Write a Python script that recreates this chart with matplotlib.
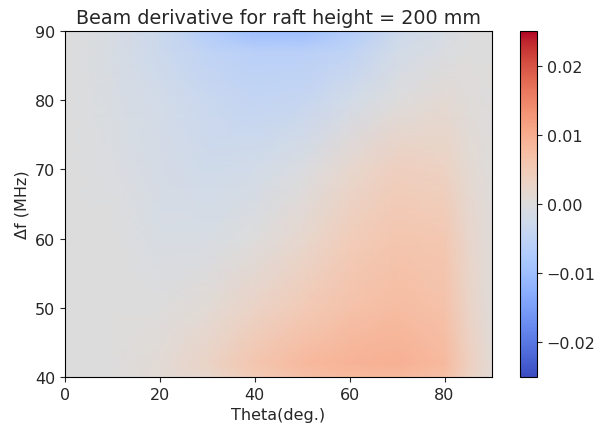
import numpy as np
import matplotlib
matplotlib.use("Agg")
import matplotlib.pyplot as plt

theta = [0, 10, 20, 30, 40, 50, 60, 70, 80, 85, 90]
freq = [40, 42, 50, 60, 70, 80, 87, 90]
# rows: freq (40 -> 90), columns: theta
v40 = [0.0, 0.0, 0.001, 0.002, 0.005, 0.007, 0.008, 0.008, 0.007, 0.0035, 0.001]
v42 = [0.0, 0.0, 0.001, 0.003, 0.006, 0.008, 0.009, 0.0095, 0.008, 0.004, 0.001]
v50 = [0.0, 0.0, 0.0, 0.001, 0.003, 0.005, 0.0065, 0.0075, 0.0065, 0.003, 0.0005]
v60 = [0.0, 0.0, -0.001, -0.001, 0.0, 0.002, 0.0045, 0.006, 0.0055, 0.0025, 0.0005]
v70 = [0.0, -0.0005, -0.0015, -0.0025, -0.002, -0.0005, 0.002, 0.004, 0.0035, 0.0015, 0.0003]
v80 = [0.0, -0.0008, -0.002, -0.0035, -0.0045, -0.004, -0.002, 0.0, 0.0012, 0.0005, 0.0]
v87 = [0.0, -0.001, -0.003, -0.005, -0.006, -0.006, -0.005, -0.002, -0.0005, 0.0, 0.0]
v90 = [0.0, -0.001, -0.003, -0.007, -0.010, -0.010, -0.007, -0.003, -0.001, -0.0003, 0.0]
Z = np.array([v40, v42, v50, v60, v70, v80, v87, v90])

plt.rcParams['text.color'] = '#262626'
plt.rcParams['axes.labelcolor'] = '#262626'
plt.rcParams['xtick.color'] = '#262626'
plt.rcParams['ytick.color'] = '#262626'

fig = plt.figure(figsize=(5.97, 4.31), dpi=100)
ax = fig.add_axes([65/597, 1-378/431, (492-65)/597, (378-32)/431])
cax = fig.add_axes([520/597, 1-378/431, 17/597, (378-32)/431])
T, F = np.meshgrid(theta, freq)
m = ax.pcolormesh(T, F, Z, cmap='coolwarm', vmin=-0.025, vmax=0.025, shading='gouraud')
ax.set_xlim(0, 90)
ax.set_ylim(40, 90)
ax.set_xticks([0, 20, 40, 60, 80])
ax.set_yticks([40, 50, 60, 70, 80, 90])
ax.set_xlabel('Theta(deg.)', fontsize=11.5)
ax.set_ylabel('Δf (MHz)', fontsize=11.5)
ax.set_title('Beam derivative for raft height = 200 mm', fontsize=13.8)
cb = fig.colorbar(m, cax=cax, ticks=[-0.02, -0.01, 0.0, 0.01, 0.02])
cb.ax.set_yticklabels(['−0.02', '−0.01', '0.00', '0.01', '0.02'])
for a in (ax, cax):
    a.tick_params(labelsize=11.5)
fig.savefig('out.png', dpi=100)
